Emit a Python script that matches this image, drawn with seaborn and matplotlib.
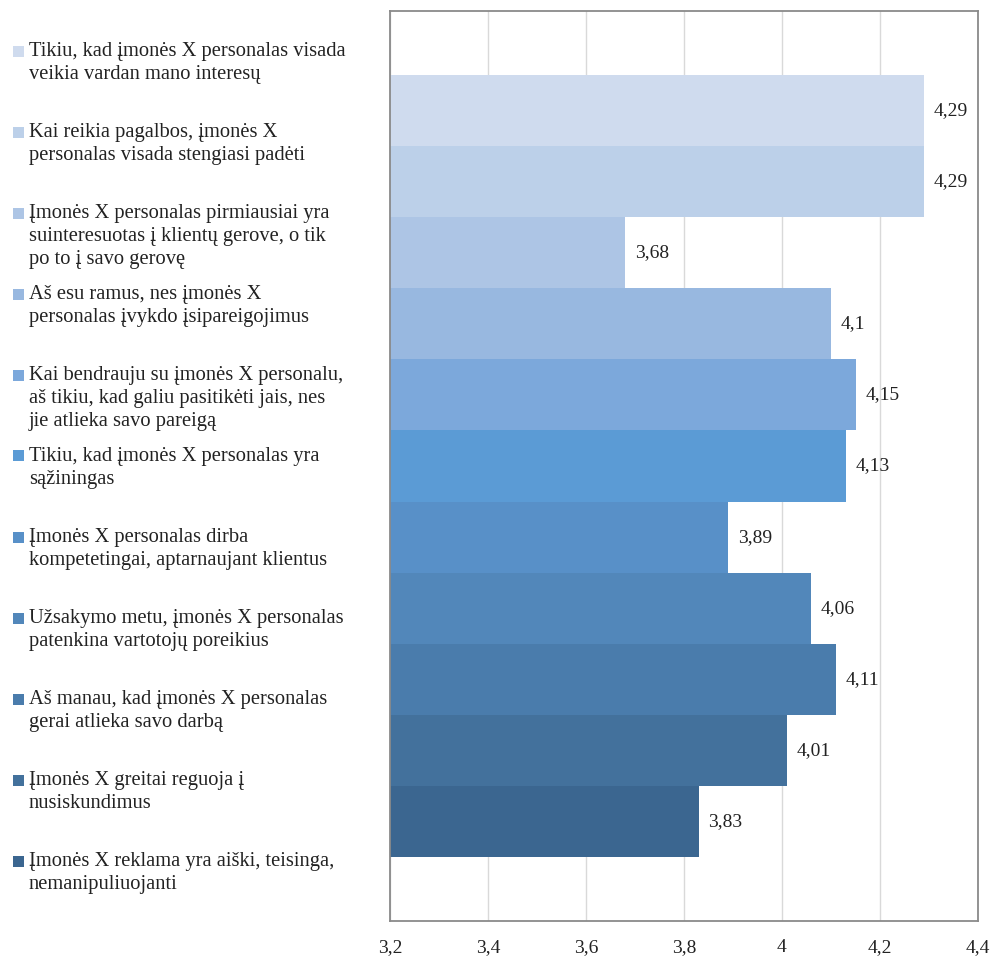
import matplotlib
matplotlib.use("Agg")
import matplotlib.pyplot as plt
from matplotlib.patches import Rectangle
import pandas as pd
import seaborn as sns

# Survey statements (legend entries, top to bottom)
statements = [
    "Tikiu, kad įmonės X personalas visada\nveikia vardan mano interesų",
    "Kai reikia pagalbos, įmonės X\npersonalas visada stengiasi padėti",
    "Įmonės X personalas pirmiausiai yra\nsuinteresuotas į klientų gerove, o tik\npo to į savo gerovę",
    "Aš esu ramus, nes įmonės X\npersonalas įvykdo įsipareigojimus",
    "Kai bendrauju su įmonės X personalu,\naš tikiu, kad galiu pasitikėti jais, nes\njie atlieka savo pareigą",
    "Tikiu, kad įmonės X personalas yra\nsąžiningas",
    "Įmonės X personalas dirba\nkompetetingai, aptarnaujant klientus",
    "Užsakymo metu, įmonės X personalas\npatenkina vartotojų poreikius",
    "Aš manau, kad įmonės X personalas\ngerai atlieka savo darbą",
    "Įmonės X greitai reguoja į\nnusiskundimus",
    "Įmonės X reklama yra aiški, teisinga,\nnemanipuliuojanti",
]

# Mean agreement score per statement
scores = [4.29, 4.29, 3.68, 4.10, 4.15, 4.13, 3.89, 4.06, 4.11, 4.01, 3.83]

bar_colors = [
    "#CFDBEE", "#BCD0E9", "#ADC5E5", "#98B8E0", "#7CA8DB", "#5B9BD5",
    "#5890C8", "#5287BA", "#4A7CAC", "#43719C", "#3B6690",
]

x_ticks = [3.2, 3.4, 3.6, 3.8, 4.0, 4.2, 4.4]


def lt_number(v):
    """Format a number with a decimal comma, dropping trailing zeros."""
    s = f"{v:.2f}".rstrip("0").rstrip(".")
    return s.replace(".", ",")


sns.set_theme(style="white")
plt.rcParams["font.family"] = ["Liberation Serif", "DejaVu Serif"]

df = pd.DataFrame({
    "grupe": [""] * len(scores),
    "teiginys": statements,
    "vidurkis": scores,
})

W, H = 995, 956
fig = plt.figure(figsize=(W / 100, H / 100), dpi=100)
ax = fig.add_axes([390 / W, (H - 921) / H, 588 / W, 910 / H])

sns.barplot(
    data=df, x="vidurkis", y="grupe", hue="teiginys", hue_order=statements,
    palette=bar_colors, saturation=1, orient="h", width=0.86, linewidth=0,
    errorbar=None, legend=False, ax=ax,
)

ax.set_xlim(3.2, 4.4)
ax.set_xticks(x_ticks)
ax.set_xticklabels([lt_number(t) for t in x_ticks])
ax.set_yticks([])
ax.set_xlabel("")
ax.set_ylabel("")
ax.xaxis.grid(True, color="#D9D9D9", linewidth=1.0)
ax.set_axisbelow(True)
ax.tick_params(axis="x", length=0, pad=13, labelsize=14, labelcolor="#222222")
for side in ("left", "right", "top", "bottom"):
    ax.spines[side].set_visible(True)
    ax.spines[side].set_color("#8A8A8A")
    ax.spines[side].set_linewidth(1.3)

# Value labels to the right of each bar
for cont in ax.containers:
    ax.bar_label(cont, labels=[lt_number(v) for v in cont.datavalues],
                 padding=7, fontsize=14, color="#222222")

# Legend on the left: square swatch plus wrapped statement
step = 81
for i, (label, col) in enumerate(zip(statements, bar_colors)):
    cy = 51 + i * step
    fig.add_artist(Rectangle((13 / W, 1 - (cy + 5.5) / H), 11 / W, 11 / H,
                             transform=fig.transFigure, facecolor=col,
                             edgecolor="none"))
    fig.text(29 / W, 1 - (cy - 9) / H, label, ha="left", va="top",
             fontsize=14.8, color="#222222", linespacing=1.27)

fig.savefig("out.png", dpi=100)
